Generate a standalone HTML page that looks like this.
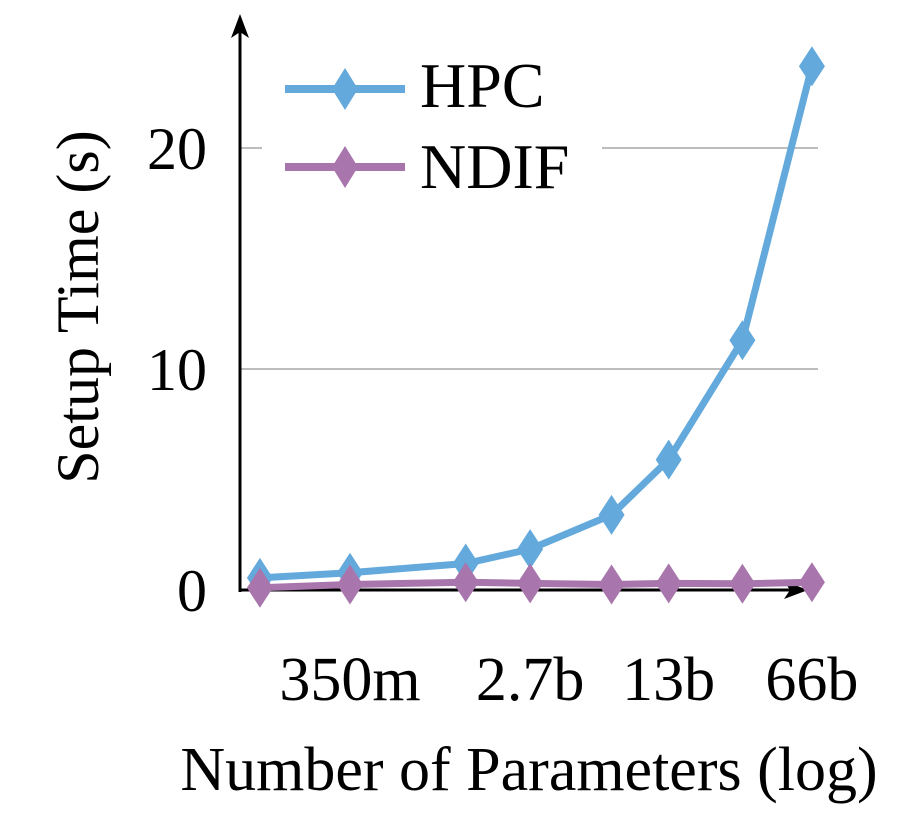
<!DOCTYPE html>
<html><head><meta charset="utf-8"><style>
body{margin:0;background:#fff}
svg{display:block;font-family:"Liberation Serif",serif}
</style></head><body>
<svg id="chart" width="920" height="826" viewBox="0 0 920 826">
<g id="grid"></g>
<g id="axes">
  <line x1="240" y1="592" x2="240" y2="22" stroke="#000" stroke-width="3"/>
  <polygon points="240,14 231,38 240,32 249,38" fill="#000"/>
  <line x1="239" y1="590" x2="800" y2="590" stroke="#000" stroke-width="3"/>
  <polygon points="808,590 784,581 790,590 784,599" fill="#000"/>
</g>
<g id="yticks"></g>
<g id="xticks"></g>
<rect x="262" y="52" width="340" height="150" fill="#fff"/>
<g id="series"></g>
<g>
  <g>
    <line x1="285" y1="89" x2="405" y2="89" stroke="#64a9dc" stroke-width="8"/>
    <polygon points="345,68 358,89 345,110 332,89" fill="#64a9dc"/>
    <text x="420" y="107" font-size="64" fill="#000">HPC</text>
  </g>
  <g>
    <line x1="285" y1="167" x2="405" y2="167" stroke="#a876ac" stroke-width="8"/>
    <polygon points="345,146 358,167 345,188 332,167" fill="#a876ac"/>
    <text x="420" y="188" font-size="64" fill="#000">NDIF</text>
  </g>
</g>
<text x="98" y="307" font-size="60" text-anchor="middle" transform="rotate(-90 98 307)">Setup Time (s)</text>
<text x="529" y="790" font-size="62" text-anchor="middle">Number of Parameters (log)</text>
</svg>
<script>
const params = [1.26e8, 3.5e8, 1.3e9, 2.7e9, 6.8e9, 1.3e10, 3.0e10, 6.6e10];
const hpcValues = [0.55, 0.78, 1.2, 1.85, 3.4, 5.9, 11.3, 23.7];
const ndifValues = [0.1, 0.25, 0.35, 0.3, 0.25, 0.3, 0.28, 0.35];
const yTicks = [0, 10, 20];
const xTickValues = [3.5e8, 2.7e9, 1.3e10, 6.6e10];
const xTickLabels = ["350m", "2.7b", "13b", "66b"];

const NS = "http://www.w3.org/2000/svg";
function xs(p){ return 350 + (Math.log10(p) - Math.log10(3.5e8)) * 203; }
function ys(v){ return 590 - v * 22.1; }
function mk(tag, attrs, parent){
  const e = document.createElementNS(NS, tag);
  for (const k in attrs) e.setAttribute(k, attrs[k]);
  parent.appendChild(e); return e;
}
const grid = document.getElementById('grid');
const yt = document.getElementById('yticks');
yTicks.forEach(t => {
  if (t > 0) {
    const g = mk('line', {x1:240, x2:818, y1:ys(t), y2:ys(t), stroke:'#bdbdbd', 'stroke-width':2}, grid);
    
    
  }
  const tx = mk('text', {x:207, y:ys(t)+21, 'font-size':60, 'text-anchor':'end'}, yt);
  tx.textContent = t;
  
  
});
const xt = document.getElementById('xticks');
xTickValues.forEach((p, i) => {
  const tx = mk('text', {x:xs(p), y:700, 'font-size':62, 'text-anchor':'middle'}, xt);
  tx.textContent = xTickLabels[i];
  
  
});
const sg = document.getElementById('series');
function drawSeries(vals, color, name){
  const g = mk('g', {}, sg);
  
  
  const pts = vals.map((v, i) => xs(params[i]) + ',' + ys(v)).join(' ');
  const pl = mk('polyline', {points:pts, fill:'none', stroke:color, 'stroke-width':7, 'stroke-linejoin':'round'}, g);
  
  
  vals.forEach((v, i) => {
    const x = xs(params[i]), y = ys(v);
    const d = mk('polygon', {points:`${x},${y-20} ${x+13},${y} ${x},${y+20} ${x-13},${y}`, fill:color}, g);
    
    
  });
}
drawSeries(hpcValues, '#64a9dc', 'hpc');
drawSeries(ndifValues, '#a876ac', 'ndif');
</script>
</body></html>
